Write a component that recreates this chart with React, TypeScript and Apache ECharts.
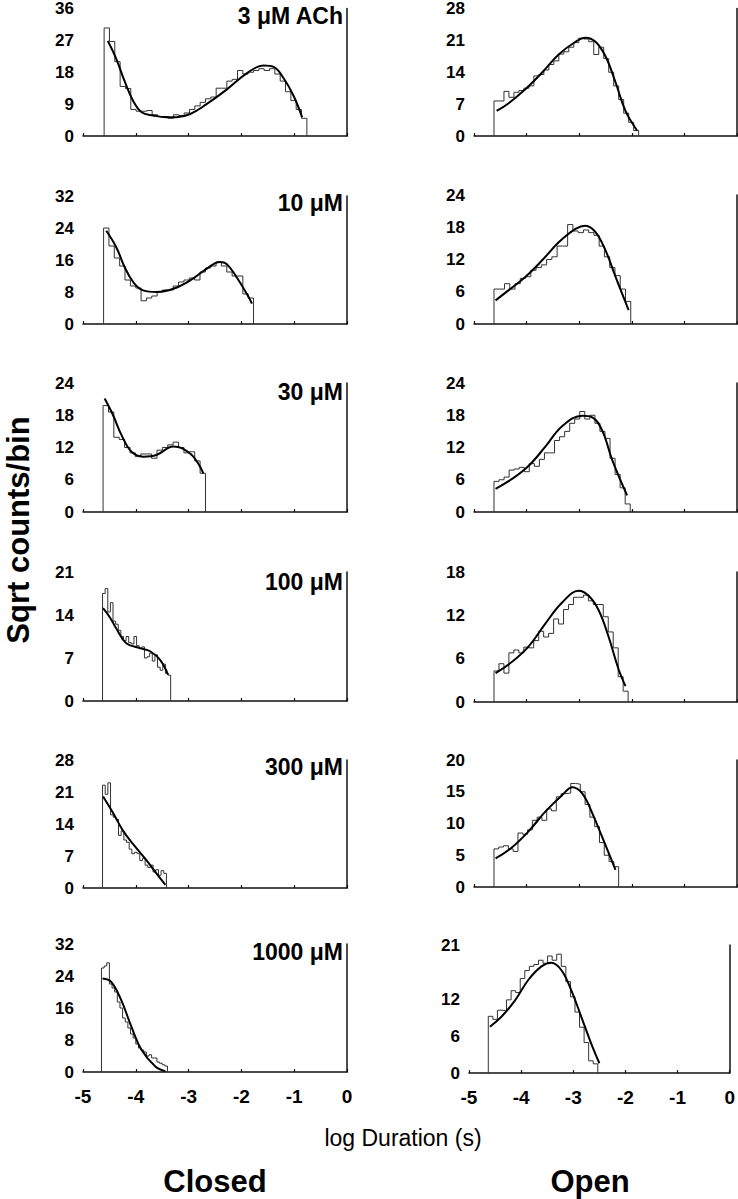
import React, { useEffect, useRef } from "react";
import * as echarts from "echarts";

const concentrations = ["3 μM ACh", "10 μM", "30 μM", "100 μM", "300 μM", "1000 μM"];
const xTicks = [-5, -4, -3, -2, -1, 0];

// Closed-time panels (left column)
const closedYMax = [36, 32, 24, 21, 28, 32];
const closedYStep = [9, 8, 6, 7, 7, 8];
const closedHistRange = [
  [-4.6, -0.76],
  [-4.61, -1.77],
  [-4.62, -2.68],
  [-4.63, -3.34],
  [-4.63, -3.42],
  [-4.65, -3.4],
];
const closedHist1 = [30.5, 26.7, 21, 14, 13.4, 7.5, 7, 7, 7.2, 6, 5.5, 5.5, 5, 6, 5.8, 6.5, 7.5, 8.5, 9.5, 10.5, 11, 13.5, 13.5, 15.5, 16, 18.5, 17.5, 18, 18.5, 19, 18.5, 19, 17.5, 15.5, 12.5, 10, 7.5, 5];
const closedHist2 = [24, 19.5, 16.5, 14.5, 11, 9.5, 9, 5.8, 6.5, 7, 8, 8.5, 8.5, 9.5, 10.5, 11, 11.5, 11, 13, 14, 14.5, 15.5, 14.5, 13, 12, 12, 7.5, 6.5];
const closedHist3 = [19.8, 18.6, 13.9, 13.5, 12, 11, 10.3, 10.8, 10.8, 10, 11.5, 12, 12.5, 13, 12, 11, 11.2, 9.5, 7.2];
const closedHist4 = [17.5, 18.3, 14.5, 16, 13, 12.5, 11.5, 10.5, 9.8, 10.5, 9.5, 9.3, 10.5, 9, 8.5, 8.8, 7, 7.2, 7.8, 6.5, 7.5, 5.5, 5, 6, 4.5, 4.2];
const closedHist5 = [22.5, 20.5, 23, 16, 15.5, 15, 11.5, 12.5, 10.5, 10, 8.5, 7.5, 7.8, 7.5, 6, 6.5, 5, 4.5, 5, 3.5, 4, 2.8, 3.8, 3.2];
const closedHist6 = [26, 26.5, 27.3, 22, 21, 20, 17.5, 16, 13.5, 12.5, 11, 9.5, 8.5, 7, 6, 5.5, 5, 4, 4.3, 3.5, 3.5, 2.5, 2.2, 1.8, 1.5];
const closedFit1 = [[-4.53, 26.8], [-4.37, 21.8], [-4.21, 15.4], [-4.05, 9.9], [-3.89, 6.7], [-3.67, 5.8], [-3.42, 5.3], [-3.23, 5.3], [-2.97, 6.2], [-2.66, 9.0], [-2.28, 13.1], [-1.9, 17.7], [-1.58, 19.9], [-1.39, 19.5], [-1.2, 16.3], [-1.01, 11.3], [-0.85, 5.3]];
const closedFit2 = [[-4.56, 23.3], [-4.37, 19.2], [-4.21, 14.2], [-4.05, 10.5], [-3.86, 8.4], [-3.6, 8], [-3.29, 8.8], [-2.97, 10.9], [-2.66, 13.8], [-2.41, 15.5], [-2.28, 15], [-2.09, 11.7], [-1.9, 7.6], [-1.8, 5.1]];
const closedFit3 = [[-4.59, 21.1], [-4.43, 18], [-4.27, 14.3], [-4.08, 11.2], [-3.86, 10.3], [-3.61, 10.6], [-3.29, 12.2], [-3.13, 11.9], [-2.91, 10.3], [-2.72, 7.2]];
const closedFit4 = [[-4.62, 15.1], [-4.49, 13.6], [-4.37, 11.8], [-4.18, 9.4], [-3.92, 8.6], [-3.73, 8.1], [-3.54, 6.7], [-3.39, 4.3]];
const closedFit5 = [[-4.62, 20], [-4.43, 16.4], [-4.24, 12.5], [-4.05, 9.6], [-3.8, 6.1], [-3.61, 3.2], [-3.44, 0.7]];
const closedFit6 = [[-4.63, 23.4], [-4.47, 22.6], [-4.28, 18.1], [-4.08, 11.2], [-3.89, 5.5], [-3.63, 1.4], [-3.44, 0.2]];

// Open-time panels (right column)
const openYMax = [28, 24, 24, 18, 20, 21];
const openYStep = [7, 6, 6, 6, 5, 3];
const openLastLabels = [0, 6, 12, 21];
const openHistRange = [
  [-4.62, -1.87],
  [-4.62, -2.02],
  [-4.62, -2.03],
  [-4.62, -2.07],
  [-4.62, -2.25],
  [-4.63, -2.53],
];
const openHist1 = [7.7, 7.7, 9.8, 8.5, 9.6, 10, 10.5, 11, 13.2, 13.5, 14.5, 15.7, 16.5, 18, 18.5, 19.5, 20.5, 21.5, 21.3, 20.7, 17.9, 19.5, 17, 14, 11, 8, 5, 3, 1.2];
const openHist2 = [6.5, 6.5, 7.5, 6.5, 7.5, 8.5, 8.8, 10, 10.5, 11, 12, 12.5, 14.5, 14.5, 18.5, 17.3, 17, 17.5, 17, 16.5, 14.5, 12.5, 10.5, 9, 6.5, 4.2];
const openHist3 = [5.7, 6, 6.5, 7.8, 8, 8.3, 7.5, 9, 8.5, 9.8, 11, 11, 13.3, 14, 15, 16.5, 17.3, 18.7, 17.3, 18, 16.5, 15, 13.7, 10, 7, 4.5, 1.5];
const openHist4 = [4.3, 5.3, 4, 6.8, 7.2, 6.8, 7.6, 7.5, 8.5, 9.8, 9, 9.5, 11.5, 10.8, 12.8, 13.5, 14.5, 14.5, 14.8, 14, 13.5, 13.5, 11.8, 9.7, 7.5, 3.5, 1.5];
const openHist5 = [6, 6.3, 6.5, 6, 5.6, 8.5, 8.3, 9, 10.5, 11, 10.5, 12.3, 12, 14.2, 14.7, 14.8, 16.3, 16.2, 15, 13, 11, 9.5, 7, 5, 4, 3.2];
const openHist6 = [9.3, 8.8, 10.3, 10.2, 12, 13.5, 13.2, 15.5, 16.8, 17.5, 17.8, 18.5, 18, 19.2, 18.5, 19.5, 17.5, 15, 12.5, 10, 7.5, 5, 2, 1.5];
const openFit1 = [[-4.57, 5.5], [-4.34, 7.2], [-4.02, 10.3], [-3.7, 14], [-3.39, 17.9], [-3.07, 20.7], [-2.88, 21.6], [-2.69, 20.7], [-2.5, 17.5], [-2.31, 11.8], [-2.12, 5.5], [-1.9, 1.2]];
const openFit2 = [[-4.59, 4.4], [-4.34, 6.3], [-4.02, 8.8], [-3.7, 11.9], [-3.39, 15.2], [-3.07, 17.7], [-2.88, 18.3], [-2.69, 17.1], [-2.5, 13.7], [-2.31, 8.8], [-2.06, 2.6]];
const openFit3 = [[-4.59, 4.3], [-4.27, 6.2], [-3.96, 8.6], [-3.64, 12.2], [-3.32, 16], [-2.94, 17.9], [-2.75, 17.6], [-2.56, 15.1], [-2.37, 9.6], [-2.09, 3.1]];
const openFit4 = [[-4.59, 4], [-4.27, 5.6], [-3.96, 7.7], [-3.64, 10.9], [-3.32, 13.8], [-3.01, 15.4], [-2.82, 14.7], [-2.63, 12.7], [-2.44, 9], [-2.25, 4.5], [-2.12, 2.2]];
const openFit5 = [[-4.59, 4.5], [-4.27, 6.3], [-3.96, 8.8], [-3.64, 11.9], [-3.32, 14.5], [-3.13, 15.7], [-2.94, 14.7], [-2.75, 11.6], [-2.56, 7.8], [-2.31, 2.7]];
const openFit6 = [[-4.6, 7.6], [-4.37, 9.3], [-4.11, 12], [-3.86, 15.3], [-3.61, 17.5], [-3.42, 18.1], [-3.23, 16.9], [-3.04, 13.6], [-2.85, 9.3], [-2.66, 4.9], [-2.5, 1.6]];

const closedHists = [closedHist1, closedHist2, closedHist3, closedHist4, closedHist5, closedHist6];
const closedFits = [closedFit1, closedFit2, closedFit3, closedFit4, closedFit5, closedFit6];
const openHists = [openHist1, openHist2, openHist3, openHist4, openHist5, openHist6];
const openFits = [openFit1, openFit2, openFit3, openFit4, openFit5, openFit6];

const FONT = '"Liberation Sans", Arial, Helvetica, sans-serif';

function outline(values: number[], range: number[]) {
  const [s, e] = range;
  const w = (e - s) / values.length;
  const pts: number[][] = [[s, 0]];
  values.forEach((v, i) => {
    pts.push([s + i * w, v]);
    pts.push([s + (i + 1) * w, v]);
  });
  pts.push([e, 0]);
  return pts;
}

export default function App() {
  const ref = useRef<HTMLDivElement>(null);
  useEffect(() => {
    if (!ref.current) return;
    const chart = echarts.init(ref.current, null, { renderer: "svg" });

    const leftTops = [6, 196, 383, 572, 760, 944];
    const leftHeights = [130, 128, 129, 129, 128, 128];
    const rightTops = [6, 195, 383, 572, 760, 945];
    const rightHeights = [130, 129, 129, 130, 127, 128];

    const grids: any[] = [];
    const xAxes: any[] = [];
    const yAxes: any[] = [];
    const series: any[] = [];
    const graphics: any[] = [];

    const addPanel = (
      left: number, top: number, width: number, height: number,
      ymax: number, ystep: number, hist: number[], range: number[], fit: number[][],
      bottom: boolean, customLabels?: number[]
    ) => {
      const idx = grids.length;
      grids.push({ left, top, width, height, containLabel: false });
      xAxes.push({
        type: "value", gridIndex: idx, min: -5, max: 0, interval: 1,
        axisLine: { show: true, onZero: false, lineStyle: { color: "#111", width: 1.5 } },
        axisTick: { show: true, inside: true, length: 3, lineStyle: { color: "#111", width: 1.2 } },
        axisLabel: {
          show: bottom, color: "#000", fontFamily: FONT, fontWeight: "bold", fontSize: 19, margin: 15,
          formatter: (v: number) => (xTicks.indexOf(v) >= 0 ? String(v) : ""),
        },
        splitLine: { show: false },
      });
      const yLabel: any = {
        color: "#000", fontFamily: FONT, fontWeight: "bold", fontSize: 17, margin: 9,
      };
      if (customLabels) yLabel.customValues = customLabels;
      yAxes.push({
        type: "value", gridIndex: idx, min: 0, max: ymax, interval: ystep,
        axisLine: { show: true, lineStyle: { color: "#111", width: 1.5 } },
        axisTick: { show: false },
        axisLabel: yLabel,
        splitLine: { show: false },
      });
      series.push({
        type: "line", xAxisIndex: idx, yAxisIndex: idx, data: outline(hist, range),
        showSymbol: false, symbol: "none", silent: true,
        lineStyle: { color: "#333", width: 1 },
      });
      series.push({
        type: "line", xAxisIndex: idx, yAxisIndex: idx, data: fit, smooth: 0.4,
        showSymbol: false, symbol: "none", silent: true,
        lineStyle: { color: "#000", width: 2 },
      });
    };

    for (let i = 0; i < 6; i++) {
      addPanel(83, leftTops[i], 264, leftHeights[i], closedYMax[i], closedYStep[i],
        closedHists[i], closedHistRange[i], closedFits[i], i === 5);
      const rl = i === 5 ? 469 : 474;
      addPanel(rl, rightTops[i], 263, rightHeights[i], openYMax[i], openYStep[i],
        openHists[i], openHistRange[i], openFits[i], i === 5, i === 5 ? openLastLabels : undefined);
      graphics.push({
        type: "text", x: 343, y: [16, 203, 392, 582, 767, 952][i],
        style: { text: concentrations[i], font: `bold 23px ${FONT}`, fill: "#000", textAlign: "right", textVerticalAlign: "middle" },
      });
    }

    graphics.push({
      type: "text", x: 18, y: 530, rotation: Math.PI / 2,
      style: { text: "Sqrt counts/bin", font: `bold 31px ${FONT}`, fill: "#000", textAlign: "center", textVerticalAlign: "middle" },
    });
    graphics.push({
      type: "text", x: 403, y: 1138,
      style: { text: "log Duration (s)", font: `23px ${FONT}`, fill: "#000", textAlign: "center", textVerticalAlign: "middle" },
    });
    graphics.push({
      type: "text", x: 215, y: 1181,
      style: { text: "Closed", font: `bold 31px ${FONT}`, fill: "#000", textAlign: "center", textVerticalAlign: "middle" },
    });
    graphics.push({
      type: "text", x: 590, y: 1181,
      style: { text: "Open", font: `bold 31px ${FONT}`, fill: "#000", textAlign: "center", textVerticalAlign: "middle" },
    });

    chart.setOption({
      animation: false,
      backgroundColor: "#fff",
      grid: grids,
      xAxis: xAxes,
      yAxis: yAxes,
      series,
      graphic: graphics,
    });
    return () => chart.dispose();
  }, []);
  return (
    <div
      ref={ref}
      style={{ position: "fixed", left: 0, top: 0, width: 738, height: 1199, background: "#fff" }}
    />
  );
}
